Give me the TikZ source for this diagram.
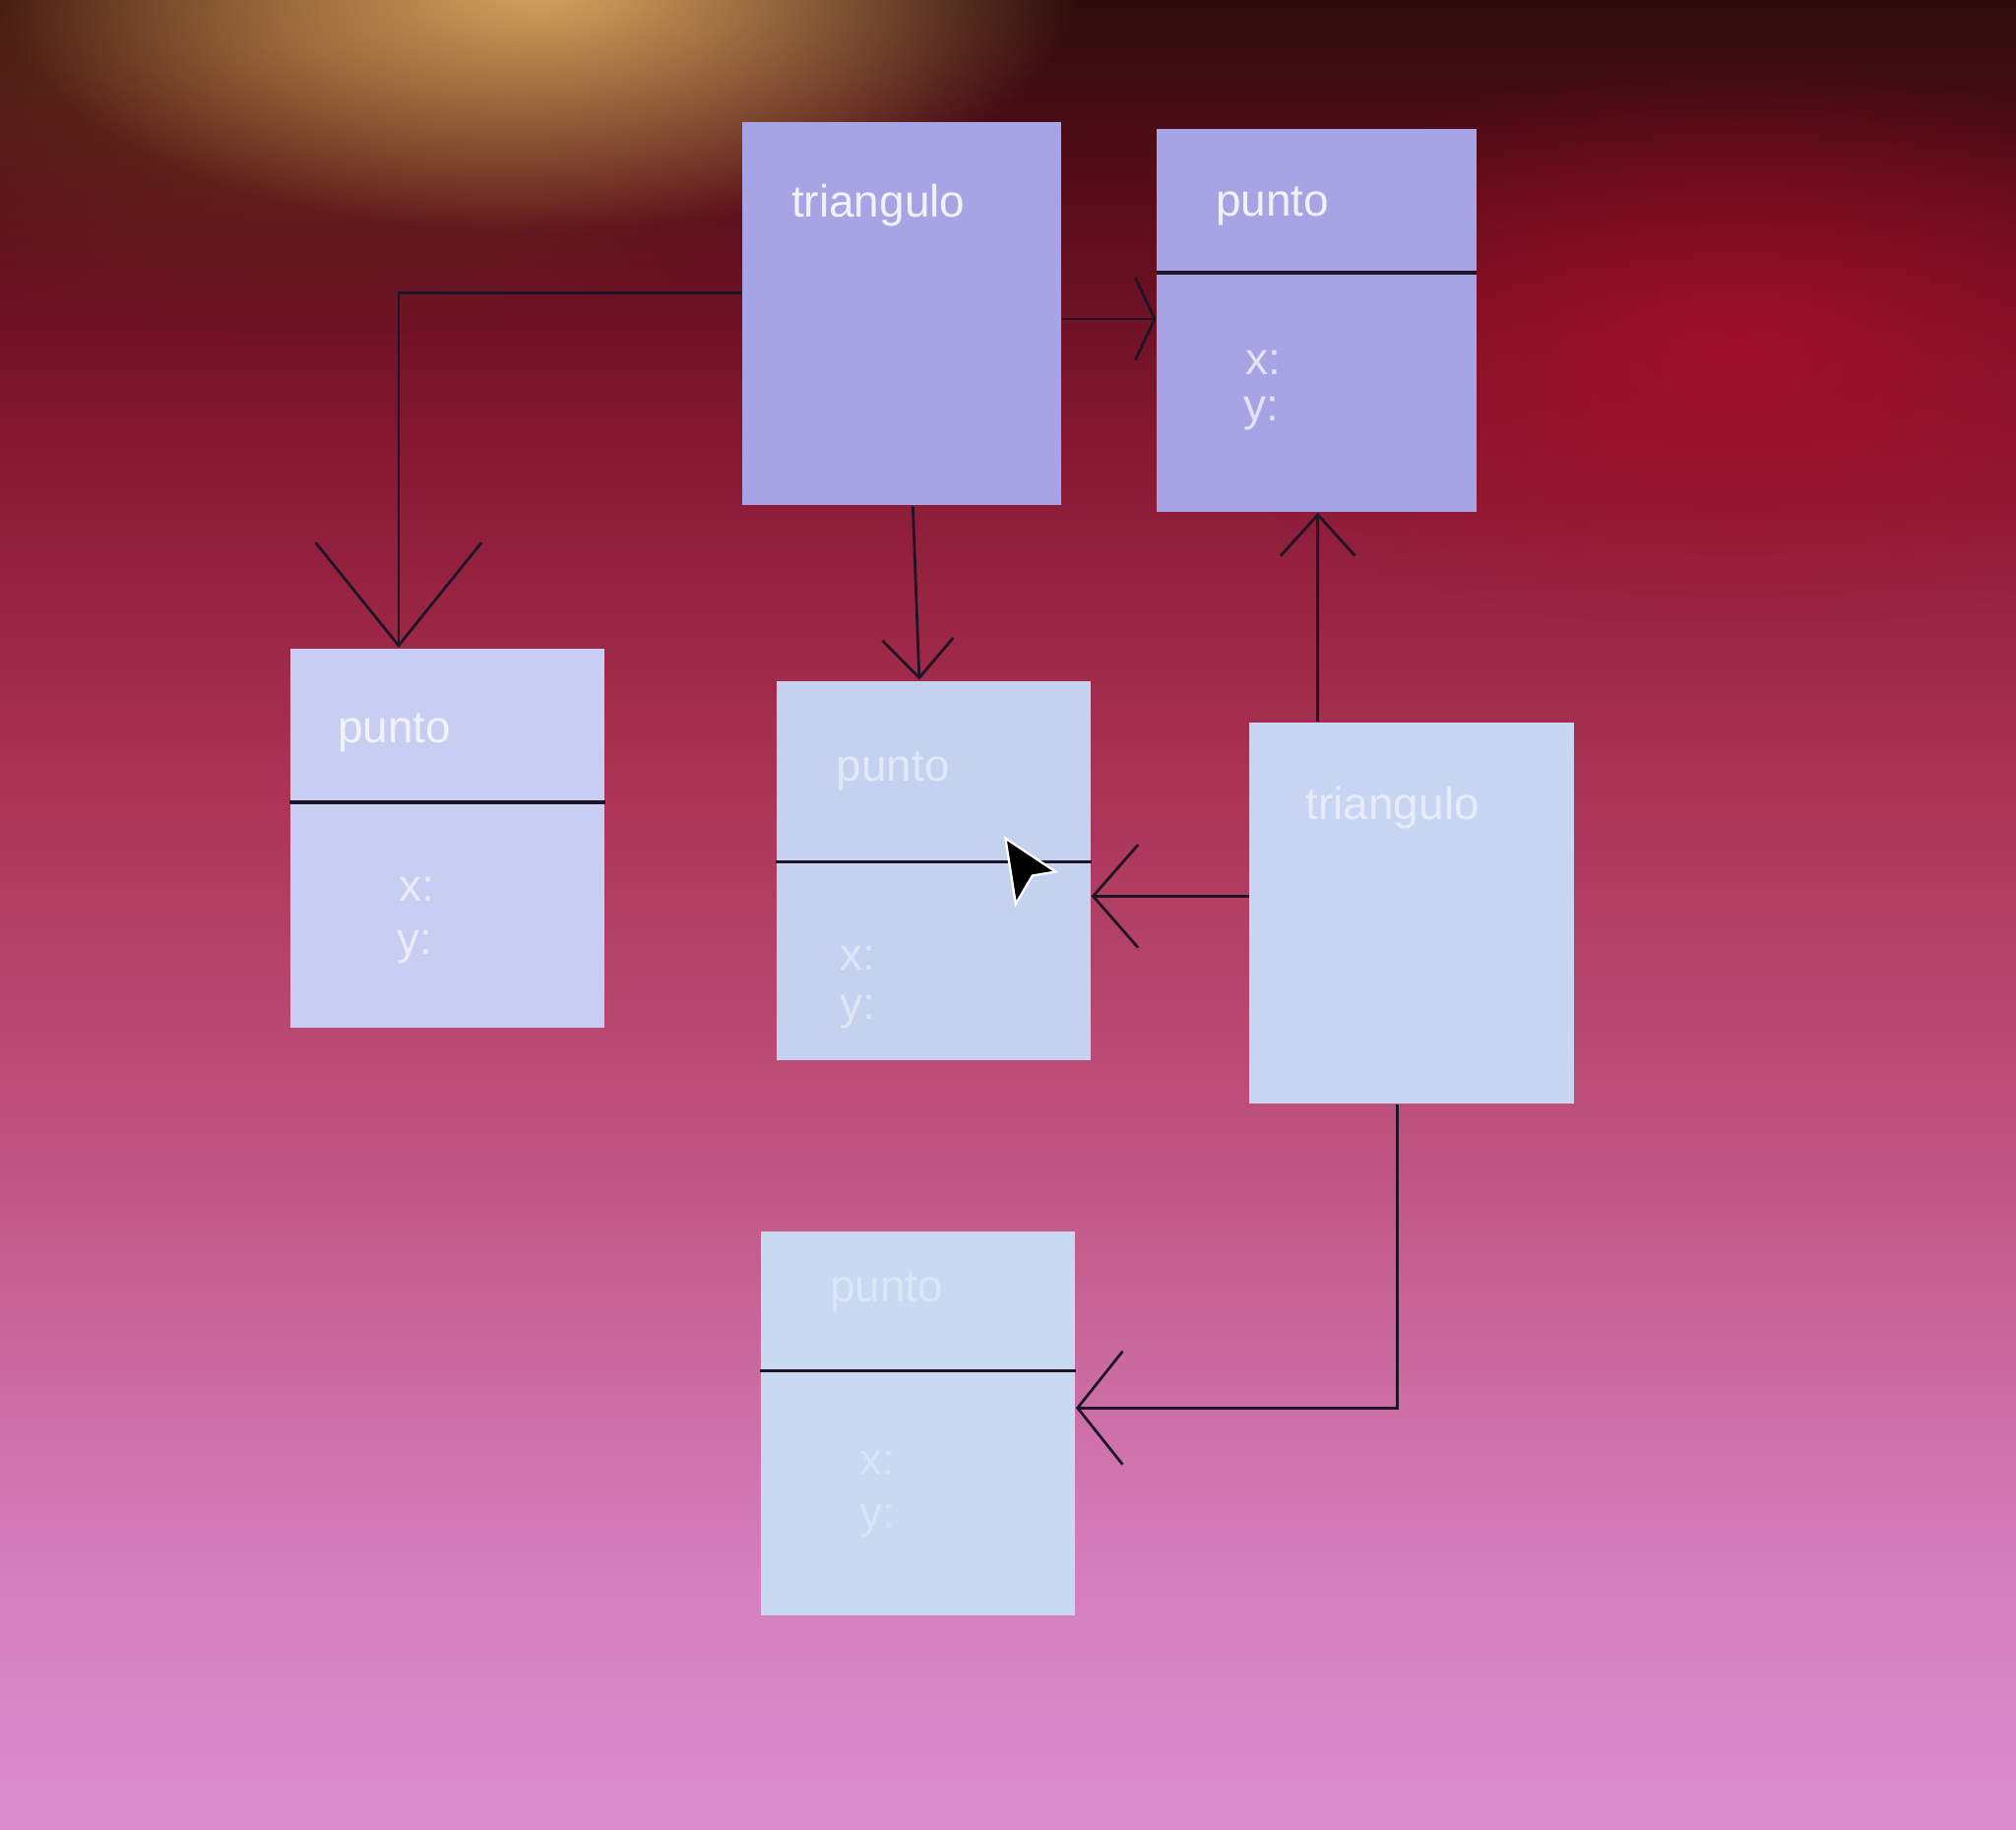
\documentclass[tikz,border=0pt]{standalone}
\usepackage{fontspec}
\setmainfont{Liberation Sans}
\usetikzlibrary{arrows.meta,fadings}
\definecolor{bgA}{RGB}{45,12,12}
\definecolor{bgB}{RGB}{88,12,26}
\definecolor{bgC}{RGB}{135,24,50}
\definecolor{bgD}{RGB}{170,50,84}
\definecolor{bgE}{RGB}{192,84,128}
\definecolor{bgF}{RGB}{212,124,186}
\definecolor{bgG}{RGB}{218,142,208}
\definecolor{goldglow}{RGB}{215,165,95}
\definecolor{brownglow}{RGB}{110,60,30}
\definecolor{redglow}{RGB}{170,14,42}
\definecolor{boxA}{RGB}{166,164,228}
\definecolor{boxC}{RGB}{200,206,242}
\definecolor{boxD}{RGB}{196,210,240}
\definecolor{boxE}{RGB}{200,213,243}
\definecolor{boxF}{RGB}{200,218,242}
\definecolor{linec}{RGB}{30,20,38}
\pgfdeclareverticalshading{bgshade}{100bp}{color(0bp)=(bgG); color(25bp)=(bgG); color(32.8bp)=(bgF); color(43.4bp)=(bgE); color(53.9bp)=(bgD); color(62.7bp)=(bgC); color(69.7bp)=(bgB); color(75bp)=(bgA); color(100bp)=(bgA)}
\tikzfading[name=glowfade, inner color=transparent!0, outer color=transparent!100]
\begin{document}
\begin{tikzpicture}[x=0.01cm,y=-0.01cm,
  box/.style={rectangle, draw=none, inner sep=0pt},
  lbl/.style={font=\fontsize{10}{12}\selectfont, text=white, anchor=west, inner sep=0pt},
  divider/.style={draw=linec, line width=0.7pt},
  conn/.style={draw=linec, line width=0.6pt}]
\useasboundingbox (0,0) rectangle (1568,1423);
\shade[shading=bgshade] (0,0) rectangle (1568,1423);
\fill[brownglow, path fading=glowfade, fill opacity=0.8] (250,40) ellipse [x radius=500, y radius=220];
\fill[goldglow, path fading=glowfade] (420,-10) ellipse [x radius=420, y radius=190];
\fill[redglow, path fading=glowfade, fill opacity=0.8] (1350,270) ellipse [x radius=450, y radius=220];
% boxes
\node[box, fill=boxA, minimum width=2.48cm, minimum height=2.98cm] (A) at (701,244) {};
\node[box, fill=boxA, minimum width=2.48cm, minimum height=2.98cm] (B) at (1024,249) {};
\node[box, fill=boxC, minimum width=2.44cm, minimum height=2.95cm] (C) at (348,652) {};
\node[box, fill=boxD, minimum width=2.44cm, minimum height=2.95cm] (D) at (726,677) {};
\node[box, fill=boxE, minimum width=2.52cm, minimum height=2.96cm] (E) at (1098,710) {};
\node[box, fill=boxF, minimum width=2.44cm, minimum height=2.98cm] (F) at (714,1107) {};
% dividers
\draw[divider] (B.west |- 0,212) -- (B.east |- 0,212);
\draw[divider] (C.west |- 0,624) -- (C.east |- 0,624);
\draw[divider] (D.west |- 0,670) -- (D.east |- 0,670);
\draw[divider] (F.west |- 0,1066) -- (F.east |- 0,1066);
% labels
\node[lbl, text opacity=0.85] (At) at (615,160) {triangulo};
\node[lbl, text opacity=0.85] (Bt) at (945,160) {punto};
\node[lbl, text opacity=0.7] (Bx) at (968,282) {x:};
\node[lbl, text opacity=0.7] (By) at (967,322) {y:};
\node[lbl, text opacity=0.75] (Ct) at (262,570) {punto};
\node[lbl, text opacity=0.6] (Cx) at (310,692) {x:};
\node[lbl, text opacity=0.6] (Cy) at (308,737) {y:};
\node[lbl, text opacity=0.5] (Dt) at (650,600) {punto};
\node[lbl, text opacity=0.45] (Dx) at (653,745) {x:};
\node[lbl, text opacity=0.45] (Dy) at (653,787) {y:};
\node[lbl, text opacity=0.55] (Et) at (1015,628) {triangulo};
\node[lbl, text opacity=0.35] (Ft) at (645,1005) {punto};
\node[lbl, text opacity=0.3] (Fx) at (668,1138) {x:};
\node[lbl, text opacity=0.3] (Fy) at (668,1183) {y:};
% connectors
\draw[conn, -{Straight Barb[length=0.8cm, width=1.29cm]}] (A.west |- 0,228) -| (C.north -| 310,0);
\draw[conn, -{Straight Barb[length=0.15cm, width=0.64cm]}] (A.east |- 0,248) -- (B.west |- 0,248);
\draw[conn, -{Straight Barb[length=0.3cm, width=0.55cm]}] (A.south -| 710,0) -- (D.north -| 715,0);
\draw[conn, -{Straight Barb[length=0.32cm, width=0.58cm]}] (E.north -| 1025,0) -- (B.south -| 1025,0);
\draw[conn, -{Straight Barb[length=0.35cm, width=0.8cm]}] (E.west |- 0,697) -- (D.east |- 0,697);
\draw[conn, -{Straight Barb[length=0.35cm, width=0.88cm]}] (E.south -| 1087,0) |- (F.east |- 0,1095);
% cursor
\fill[black, draw=white, line width=0.5pt] (782,652) -- (821,678) -- (803,681) -- (790,703) -- cycle;
\end{tikzpicture}
\end{document}
